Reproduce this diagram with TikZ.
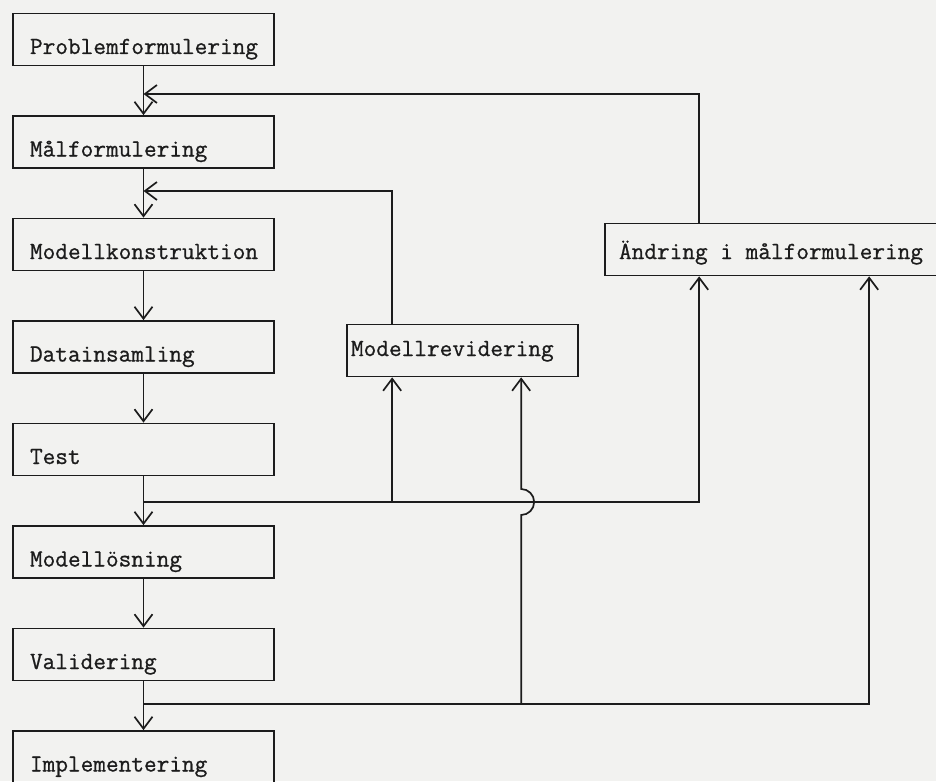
\documentclass[tikz,border=0pt]{standalone}
\usepackage{fontspec}
\setmonofont{Latin Modern Mono}[FakeBold=0.8]
\usetikzlibrary{arrows.meta,calc}
\definecolor{paper}{RGB}{242,242,240}
\definecolor{ink}{RGB}{28,28,28}
\begin{document}
\begin{tikzpicture}[x=1pt,y=1pt,line width=1.7pt,draw=ink,
  lbox/.style={draw=ink, inner xsep=0pt, inner ysep=0pt, minimum height=52pt,
    text height=29pt, text depth=0pt, text=ink, font=\ttfamily\fontsize{24.6}{28}\selectfont},
  arr/.style={-{Straight Barb[length=12pt,width=18pt]}}]
\fill[paper] (0,0) rectangle (936,-781);
\clip (0,0) rectangle (936,-781);
% main column
\node[lbox] (p1) at (143.5,-39.5) {\makebox[261pt][l]{\hspace*{17pt}Problemformulering}};
\node[lbox] (p2) at (143.5,-142)  {\makebox[261pt][l]{\hspace*{17pt}Målformulering}};
\node[lbox] (p3) at (143.5,-244.5){\makebox[261pt][l]{\hspace*{17pt}Modellkonstruktion}};
\node[lbox] (p4) at (143.5,-347)  {\makebox[261pt][l]{\hspace*{17pt}Datainsamling}};
\node[lbox] (p5) at (143.5,-449.5){\makebox[261pt][l]{\hspace*{17pt}Test}};
\node[lbox] (p6) at (143.5,-552)  {\makebox[261pt][l]{\hspace*{17pt}Modellösning}};
\node[lbox] (p7) at (143.5,-654.5){\makebox[261pt][l]{\hspace*{17pt}Validering}};
\node[lbox] (p8) at (143.5,-757)  {\makebox[261pt][l]{\hspace*{17pt}Implementering}};
% side boxes
\node[lbox, text height=11pt] (r) at (462.5,-350.5) {\makebox[231pt][l]{\hspace*{4pt}Modellrevidering}};
\node[lbox, text height=19pt] (a) at (782.5,-249.5) {\makebox[355pt][l]{\hspace*{14pt}Ändring i målformulering}};
% main chain
\foreach \u/\v in {p1/p2,p2/p3,p3/p4,p4/p5,p5/p6,p6/p7,p7/p8}
  \draw[arr] (\u) -- (\v);
% helper coordinates
\coordinate (m1) at (143.5,-94);
\coordinate (m2) at (143.5,-191);
\coordinate (tb) at (143.5,-502);
\coordinate (vb) at (143.5,-704);
\coordinate (rt1) at ([xshift=46pt]r.north west);
\coordinate (rb1) at ([xshift=46pt]r.south west);
\coordinate (rb2) at ([xshift=175pt]r.south west);
\coordinate (at1) at ([xshift=95pt]a.north west);
\coordinate (ab1) at ([xshift=95pt]a.south west);
\coordinate (ab2) at ([xshift=265pt]a.south west);
% feedback lines
\draw[arr] (at1) |- (m1);
\draw[arr] (rt1) |- (m2);
% branch after Test
\draw[arr] (tb) -| (ab1);
\draw[arr] (tb -| rb1) -- (rb1);
% branch after Validering
\draw[arr] (vb) -| (ab2);
\draw[arr] (vb -| rb2) -- ($(tb -| rb2)+(0,-13)$) arc[start angle=-90,end angle=90,radius=13pt] -- (rb2);
\end{tikzpicture}
\end{document}
